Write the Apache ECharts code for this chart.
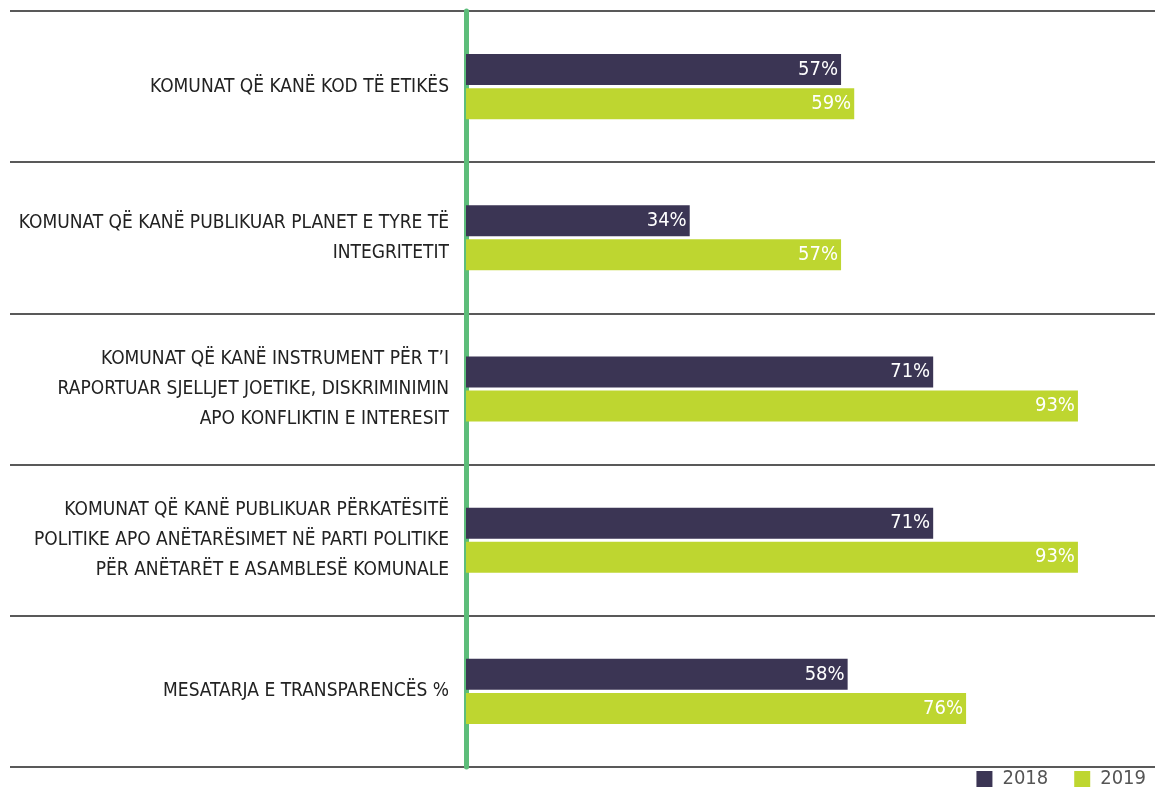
<!DOCTYPE html>
<html>
<head>
<meta charset="utf-8">
<script src="https://cdn.jsdelivr.net/npm/echarts@6/dist/echarts.min.js"></script>
<style>
  html, body { margin: 0; padding: 0; background: #fff; }
  #chart { width: 1155px; height: 795px; }
</style>
</head>
<body>
<div id="chart"></div>
<script>
// Chart data
const categories = [
    'KOMUNAT QË KANË KOD TË ETIKËS',
    'KOMUNAT QË KANË PUBLIKUAR PLANET E TYRE TË\nINTEGRITETIT',
    'KOMUNAT QË KANË INSTRUMENT PËR T’I\nRAPORTUAR SJELLJET JOETIKE, DISKRIMINIMIN\nAPO KONFLIKTIN E INTERESIT',
    'KOMUNAT QË KANË PUBLIKUAR PËRKATËSITË\nPOLITIKE APO ANËTARËSIMET NË PARTI POLITIKE\nPËR ANËTARËT E ASAMBLESË KOMUNALE',
    'MESATARJA E TRANSPARENCËS %'
];
const seriesNames = ['2018', '2019'];
const values2018 = [57, 34, 71, 71, 58];
const values2019 = [59, 57, 93, 93, 76];

const FONT = '"Liberation Sans Narrow", "DejaVu Sans Condensed", "Roboto Condensed", sans-serif';
const DARK = '#3b3554';
const LIME = '#bed630';

// Layout: zero line sits at x=466, ~6.58px per percent
const gridLeft = 10;
const zeroX = 466;
const pxPerPct = 6.58;
const chartWidth = 1155;
const xMin = -(zeroX - gridLeft) / pxPerPct;
const xMax = (chartWidth - zeroX) / pxPerPct;

function initializeChart() {
    const chartDom = document.getElementById('chart');
    const myChart = echarts.init(chartDom);

    const labelStyle = {
        show: true,
        position: 'insideRight',
        distance: 3,
        color: '#ffffff',
        fontFamily: FONT,
        fontSize: 20,
        formatter: p => p.value + '%'
    };

    const option = {
        animation: false,
        legend: {
            right: 4,
            bottom: 1,
            itemWidth: 16,
            itemHeight: 16,
            itemGap: 26,
            icon: 'rect',
            textStyle: {
                color: '#555',
                fontFamily: FONT,
                fontSize: 20,
                padding: [0, 0, 0, 5]
            },
            data: seriesNames
        },
        grid: {
            left: gridLeft,
            right: 0,
            top: 11,
            bottom: 28,
            containLabel: false,
            outerBoundsMode: 'none'
        },
        xAxis: {
            type: 'value',
            min: xMin,
            max: xMax,
            show: false
        },
        yAxis: {
            type: 'category',
            inverse: true,
            data: categories,
            // shift the axis (line + labels) right onto the zero line
            offset: -(zeroX - gridLeft),
            axisLine: {
                show: true,
                onZero: false,
                lineStyle: { color: '#5dbd7a', width: 5 }
            },
            axisTick: { show: false },
            axisLabel: {
                margin: 17,
                color: '#222',
                fontFamily: FONT,
                fontSize: 19,
                lineHeight: 30,
                align: 'right'
            },
            splitLine: {
                show: true,
                lineStyle: { color: '#222', width: 1.5 }
            }
        },
        series: [
            {
                name: seriesNames[0],
                type: 'bar',
                data: values2018,
                barWidth: 31,
                barGap: '10%',
                itemStyle: { color: DARK },
                label: labelStyle
            },
            {
                name: seriesNames[1],
                type: 'bar',
                data: values2019,
                barWidth: 31,
                barGap: '10%',
                itemStyle: { color: LIME },
                label: labelStyle
            }
        ]
    };

    myChart.setOption(option);
}

document.addEventListener('DOMContentLoaded', initializeChart);
</script>
</body>
</html>
